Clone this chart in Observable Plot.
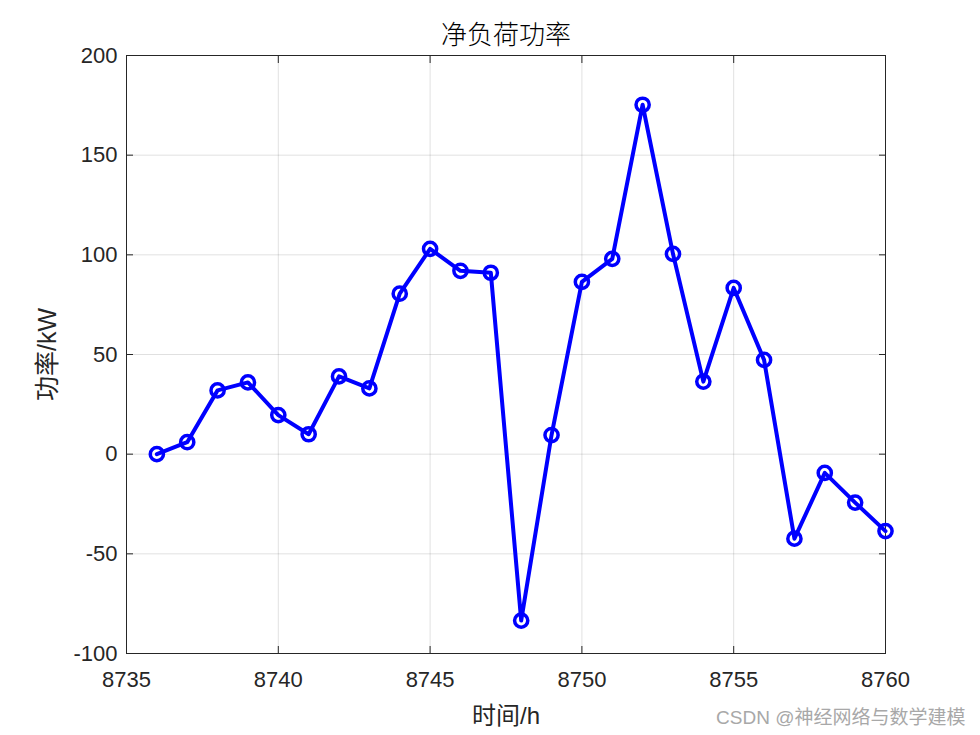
<!DOCTYPE html>
<html>
<head>
<meta charset="utf-8">
<script src="https://cdn.jsdelivr.net/npm/d3@7"></script>
<script src="https://cdn.jsdelivr.net/npm/@observablehq/plot@0.6"></script>
<style>
  html, body { margin: 0; padding: 0; background: #fff; }
  #chart svg { display: block; }
</style>
</head>
<body>
<div id="chart"></div>
<script>
const hours = [8736, 8737, 8738, 8739, 8740, 8741, 8742, 8743, 8744, 8745, 8746, 8747, 8748,
               8749, 8750, 8751, 8752, 8753, 8754, 8755, 8756, 8757, 8758, 8759, 8760];
const netLoad = [0, 6, 32, 36, 19.6, 10, 39, 33, 80.5, 103, 92, 91, -83.5,
                 9.6, 86.4, 98, 175.3, 100.5, 36.4, 83.4, 47.3, -42.4, -9.4, -24.3, -38.6];
const xTicks = [8735, 8740, 8745, 8750, 8755, 8760];
const yTicks = [-100, -50, 0, 50, 100, 150, 200];
const titleText = "净负荷功率";
const xLabel = "时间/h";
const yLabel = "功率/kW";
const watermark = "CSDN @神经网络与数学建模";

const data = hours.map((h, i) => ({h, v: netLoad[i]}));
const ink = "#262626";
const latin = "'Liberation Sans', Arial, 'Noto Sans CJK SC', sans-serif";

const chart = Plot.plot({
  width: 980,
  height: 735,
  marginLeft: 126,
  marginRight: 95,
  marginTop: 55,
  marginBottom: 82,
  style: {fontFamily: latin, fontSize: "22px", color: ink, background: "#fff"},
  x: {domain: [8735, 8760]},
  y: {domain: [-100, 200]},
  marks: [
    Plot.gridX(xTicks, {stroke: "#000", strokeOpacity: 0.12, strokeWidth: 1}),
    Plot.gridY(yTicks, {stroke: "#000", strokeOpacity: 0.12, strokeWidth: 1}),
    Plot.axisX(xTicks, {anchor: "bottom", tickSize: -7, tickPadding: 25, label: null, fontSize: 22, stroke: ink, fill: ink, tickFormat: d => String(d)}),
    Plot.axisX(xTicks, {anchor: "top", tickSize: -7, label: null, stroke: ink, tickFormat: () => ""}),
    Plot.axisY(yTicks, {anchor: "left", tickSize: -7, tickPadding: 16, label: null, fontSize: 22, stroke: ink, fill: ink, tickFormat: d => String(d)}),
    Plot.axisY(yTicks, {anchor: "right", tickSize: -7, label: null, stroke: ink, tickFormat: () => ""}),
    Plot.frame({stroke: ink, strokeWidth: 1}),
    Plot.line(data, {x: "h", y: "v", stroke: "#0000ff", strokeWidth: 4, strokeLinejoin: "round"}),
    Plot.dot(data, {x: "h", y: "v", r: 6.6, stroke: "#0000ff", strokeWidth: 3.5, fill: "none"}),
    Plot.text([titleText], {frameAnchor: "top", lineAnchor: "middle", dy: -20, fontSize: 26, fill: "#000", fontFamily: "'Noto Sans CJK SC', sans-serif", fontWeight: 300}),
    Plot.text([xLabel], {frameAnchor: "bottom", lineAnchor: "middle", dy: 63, fontSize: 24, fill: ink, fontFamily: latin}),
    Plot.text([yLabel], {frameAnchor: "left", lineAnchor: "middle", textAnchor: "middle", dx: -79, rotate: -90, fontSize: 25, fill: ink, fontFamily: latin}),
    Plot.text([watermark], {frameAnchor: "bottom-right", lineAnchor: "middle", dx: 80, dy: 64, textAnchor: "end", fontSize: 19, fill: "#a8a8a8", fontFamily: latin})
  ]
});
document.getElementById("chart").appendChild(chart);
</script>
</body>
</html>
